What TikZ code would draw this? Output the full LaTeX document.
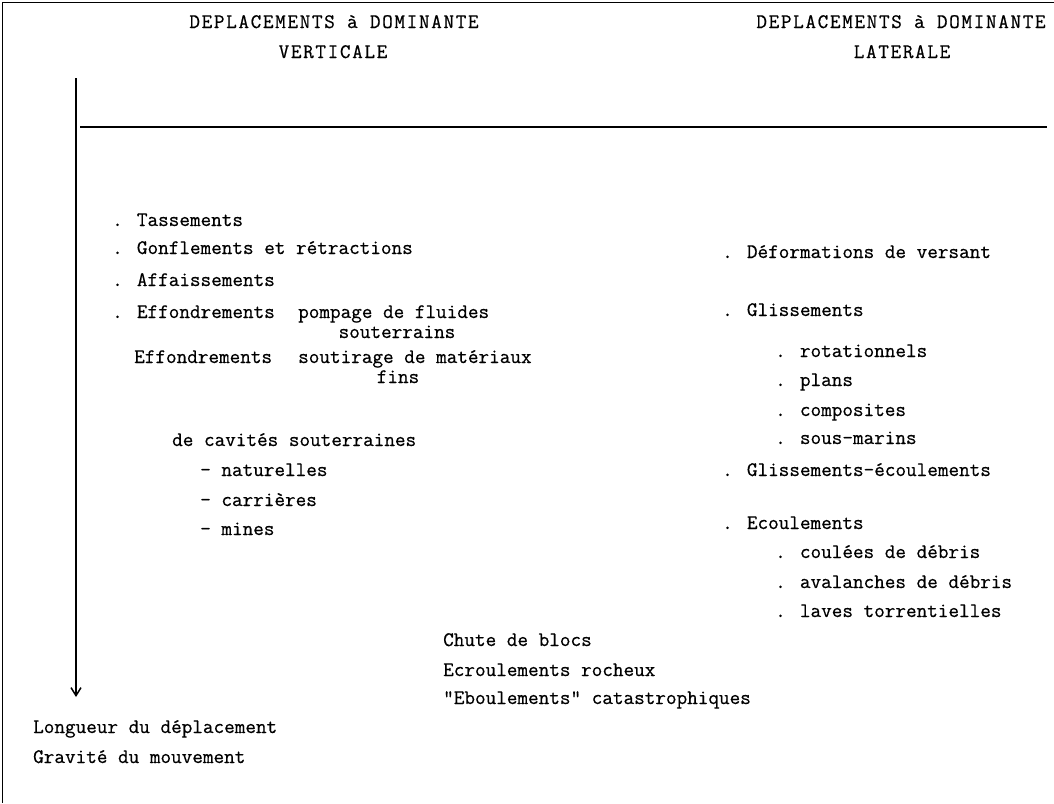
\documentclass[tikz,border=0pt]{standalone}
\usepackage{fontspec}
\usetikzlibrary{arrows.meta, positioning}
\newfontfamily\typefont[FakeBold=0.6]{Latin Modern Mono}
\newfontfamily\typefontwide[LetterSpace=8, FakeBold=0.6]{Latin Modern Mono}

\begin{document}
\begin{tikzpicture}[
    x=1pt, y=-1pt,
    >={Straight Barb[length=8pt, width=10pt]},
    item/.style={anchor=base west, inner sep=0pt, font=\typefont\fontsize{20.6}{24}\selectfont},
    centred/.style={item, anchor=base},
    head/.style={anchor=base, inner sep=0pt, font=\typefontwide\fontsize{20.6}{24}\selectfont},
    frame/.style={line width=1pt},
    rule/.style={line width=1.5pt},
]
    \useasboundingbox (0,0) rectangle (1054,803);

    % Frame (top and left only)
    \coordinate (tl) at (2,2);
    \coordinate (tr) at (1054,2);
    \coordinate (bl) at (2,803);
    \draw[frame] (tr) -- (tl) -- (bl);

    % Headings
    \node[head] (vert1) at (334,28) {DEPLACEMENTS à DOMINANTE};
    \node[head] (vert2) at (333,58) {VERTICALE};
    \node[head] (lat1) at (901,28) {DEPLACEMENTS à DOMINANTE};
    \node[head] (lat2) at (902,58) {LATERALE};

    % Axis and rule
    \coordinate (axtop) at (76,78);
    \coordinate (axbot) at (76,697);
    \draw[->, rule] (axtop) -- (axbot);
    \coordinate (rulel) at (80,127);
    \coordinate (ruler) at (1047,127);
    \draw[rule] (rulel) -- (ruler);

    % Vertical movements
    \node[item] (tass) at (112,226) {. Tassements};
    \node[item] (gonf) at (112,254) {. Gonflements et rétractions};
    \node[item] (affa) at (112,286) {. Affaissements};
    \node[item] (effa) at (112,318) {. Effondrements};
    \node[item] (pomp) at (298,318) {pompage de fluides};
    \node[centred] (pompb) at (397,338) {souterrains};
    \node[item] (effb) at (134,363) {Effondrements};
    \node[item] (sout) at (298,363) {soutirage de matériaux};
    \node[centred] (soutb) at (398,383) {fins};
    \node[item] (cav) at (172,446) {de cavités souterraines};
    \node[item] (nat) at (200,476) {- naturelles};
    \node[item] (carr) at (200,506) {- carrières};
    \node[item] (mine) at (200,535) {- mines};

    % Lateral movements
    \node[item] (defo) at (722,258) {. Déformations de versant};
    \node[item] (glis) at (722,316) {. Glissements};
    \node[item] (rota) at (775,357) {. rotationnels};
    \node[item] (plan) at (775,386) {. plans};
    \node[item] (comp) at (775,416) {. composites};
    \node[item] (sous) at (775,444) {. sous-marins};
    \node[item] (glec) at (722,476) {. Glissements-écoulements};
    \node[item] (ecou) at (722,529) {. Ecoulements};
    \node[item] (coul) at (775,558) {. coulées de débris};
    \node[item] (aval) at (775,588) {. avalanches de débris};
    \node[item] (lave) at (775,617) {. laves torrentielles};

    % Falls
    \node[item] (chute) at (443,646) {Chute de blocs};
    \node[item] (ecro) at (443,676) {Ecroulements rocheux};
    \node[item] (ebou) at (443,704) {"Eboulements" catastrophiques};

    % Axis legend
    \node[item] (long) at (33,733) {Longueur du déplacement};
    \node[item] (grav) at (33,763) {Gravité du mouvement};
\end{tikzpicture}
\end{document}
